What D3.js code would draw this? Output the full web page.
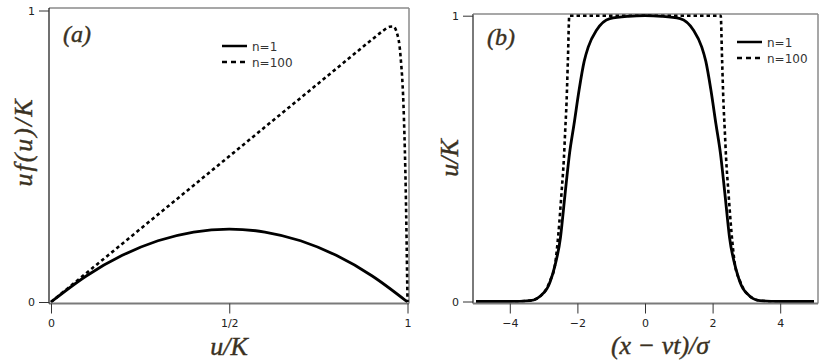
<!DOCTYPE html>
<html>
  <head>
    <meta charset="UTF-8">
    <title>Growth curves</title>
    <style type="text/css">
      body { margin: 0; background-color: #fff; }
      svg { display: block; }
      .tick text { font-family: "DejaVu Sans", sans-serif; font-size: 11px; fill: #222; }
      .legend text { font-family: "DejaVu Sans", sans-serif; font-size: 12px; fill: #333; }
      .title { font-family: "Liberation Serif", serif; font-style: italic; font-size: 26px; fill: #3a3122; stroke: #3a3122; stroke-width: 0.4px; }
      .tag { font-size: 24px; }
    </style>
    <script src="https://cdn.jsdelivr.net/npm/d3@7"></script>
  </head>
  <body>
    <div id="chart"></div>
    <script type="text/javascript">

      // panel (a): u f(u)/K against u/K
      var uA = [0, 0.1, 0.2, 0.3, 0.4, 0.5, 0.6, 0.7, 0.8, 0.9, 1];
      var n1A = [0, 0.09, 0.16, 0.21, 0.24, 0.25, 0.24, 0.21, 0.16, 0.09, 0];
      var uA100 = [0, 0.2, 0.4, 0.6, 0.8, 0.9, 0.93, 0.95, 0.96, 0.97, 0.98, 0.99, 0.995, 1];
      var n100A = [0, 0.2, 0.4, 0.6, 0.8, 0.9, 0.929, 0.944, 0.945, 0.924, 0.85, 0.63, 0.39, 0];
      var ticksAx = [0, 0.5, 1], ticksAxLabels = ["0", "1/2", "1"];

      // panel (b): u/K against (x - vt)/sigma
      var xB1 = [-5, -4, -3.4, -3.2, -3.0, -2.9, -2.7, -2.5, -2.37, -2.23, -2.1, -1.95, -1.8, -1.68, -1.43, -1.04, -0.5, 0,
                 0.5, 1.04, 1.43, 1.68, 1.8, 1.95, 2.1, 2.23, 2.37, 2.5, 2.7, 2.9, 3.0, 3.2, 3.4, 4, 5];
      var n1B = [0, 0, 0.003, 0.01, 0.03, 0.045, 0.11, 0.225, 0.37, 0.52, 0.62, 0.74, 0.84, 0.89, 0.95, 0.99, 0.998, 1,
                 0.998, 0.99, 0.95, 0.89, 0.84, 0.74, 0.62, 0.52, 0.37, 0.225, 0.11, 0.045, 0.03, 0.01, 0.003, 0, 0];
      var xB100 = [-5, -4, -3.4, -3.0, -2.8, -2.66, -2.56, -2.47, -2.40, -2.36, -2.32, -2.28, -2.24, 0,
                   2.24, 2.28, 2.32, 2.36, 2.40, 2.47, 2.56, 2.66, 2.8, 3.0, 3.4, 4, 5];
      var n100B = [0, 0, 0.003, 0.03, 0.075, 0.13, 0.24, 0.38, 0.5, 0.6, 0.7, 0.85, 1, 1,
                   1, 0.85, 0.7, 0.6, 0.5, 0.38, 0.24, 0.13, 0.075, 0.03, 0.003, 0, 0];
      var ticksBx = [-4, -2, 0, 2, 4];

      var seriesNames = ["n=1", "n=100"];

      var svg = d3.select("#chart").append("svg")
        .attr("width", 830).attr("height", 363);

      function zip(xs, ys) { return xs.map(function(x, i) { return [x, ys[i]]; }); }

      function panel(o) {
        var g = svg.append("g");
        var x = d3.scaleLinear().domain(o.xDomain).range(o.xRange);
        var y = d3.scaleLinear().domain([0, 1]).range(o.yRange);

        // frame
        g.append("line").attr("x1", o.frame[0]).attr("x2", o.frame[2]).attr("y1", o.frame[1]).attr("y2", o.frame[1])
          .attr("stroke", "#8a8a8a").attr("stroke-width", 1.5);
        g.append("line").attr("x1", o.frame[2]).attr("x2", o.frame[2]).attr("y1", o.frame[1]).attr("y2", o.frame[3])
          .attr("stroke", "#8a8a8a").attr("stroke-width", 1.5);

        var line = d3.line().x(function(d) { return x(d[0]); }).y(function(d) { return y(d[1]); })
          .curve(d3.curveMonotoneX);

        o.series.forEach(function(s) {
          g.append("path").datum(s.pts)
            .attr("fill", "none").attr("stroke", "#000")
            .attr("stroke-width", s.dash ? 2.6 : 2.8)
            .attr("stroke-dasharray", s.dash ? "3.5,3" : null)
            .attr("d", line);
        });

        // axes
        var xAxis = d3.axisBottom(x).tickValues(o.xTicks).tickSize(10).tickPadding(6)
          .tickFormat(function(d, i) { return o.xLabels ? o.xLabels[i] : d3.format("d")(d); });
        var xg = g.append("g").attr("transform", "translate(0," + o.frame[3] + ")").call(xAxis);
        xg.select(".domain").attr("d", "M" + o.frame[0] + ",0H" + o.frame[2])
          .attr("stroke", "#7a7a7a").attr("stroke-width", 2.2);
        xg.selectAll(".tick line").attr("stroke", "#333");

        var yAxis = d3.axisLeft(y).tickValues([0, 1]).tickSize(10).tickPadding(4).tickFormat(d3.format("d"));
        var yg = g.append("g").attr("transform", "translate(" + o.frame[0] + ",0)").call(yAxis);
        yg.select(".domain").attr("d", "M0," + o.frame[1] + "V" + o.frame[3])
          .attr("stroke", o.leftColor).attr("stroke-width", o.leftWidth);
        yg.selectAll(".tick line").attr("stroke", "#333");
        g.selectAll(".domain").attr("fill", "none");

        // panel label
        g.append("text").attr("class", "title tag").attr("x", o.tag[0]).attr("y", o.tag[1]).text(o.tagText);

        // legend
        var lg = g.append("g").attr("class", "legend");
        seriesNames.forEach(function(name, i) {
          var yy = o.legend[1] + i * 16;
          lg.append("line").attr("x1", o.legend[0]).attr("x2", o.legend[0] + 25).attr("y1", yy).attr("y2", yy)
            .attr("stroke", "#000").attr("stroke-width", 2.5)
            .attr("stroke-dasharray", i ? "5,4" : null);
          lg.append("text").attr("x", o.legend[0] + 30).attr("y", yy + 4.5).text(name);
        });

        // axis titles
        g.append("text").attr("class", "title").attr("text-anchor", "middle")
          .attr("x", o.xTitle[0]).attr("y", o.xTitle[1]).text(o.xTitleText);
        g.append("text").attr("class", "title").attr("text-anchor", "middle")
          .attr("transform", "translate(" + o.yTitle[0] + "," + o.yTitle[1] + ") rotate(-90)")
          .style("letter-spacing", o.yTitleSpacing + "px")
          .text(o.yTitleText);
      }

      panel({
        xDomain: [0, 1], xRange: [51, 407.5], yRange: [302, 10.5],
        frame: [49, 8, 409, 303.5], leftColor: "#111", leftWidth: 1.2,
        xTicks: ticksAx, xLabels: ticksAxLabels,
        series: [{ pts: zip(uA, n1A), dash: false }, { pts: zip(uA100, n100A), dash: true }],
        tag: [63, 42], tagText: "(a)",
        legend: [222, 46],
        xTitle: [229, 355], xTitleText: "u/K",
        yTitle: [32, 142], yTitleText: "uf(u)/K", yTitleSpacing: 2
      });

      panel({
        xDomain: [-5, 5], xRange: [476, 814], yRange: [301.5, 15.7],
        frame: [473, 14, 818, 303.5], leftColor: "#7a7a7a", leftWidth: 2,
        xTicks: ticksBx, xLabels: null,
        series: [{ pts: zip(xB1, n1B), dash: false }, { pts: zip(xB100, n100B), dash: true }],
        tag: [487, 45], tagText: "(b)",
        legend: [737, 42],
        xTitle: [660, 354], xTitleText: "(x \u2212 vt)/\u03c3",
        yTitle: [458, 158], yTitleText: "u/K", yTitleSpacing: 0
      });

    </script>
  </body>
</html>
